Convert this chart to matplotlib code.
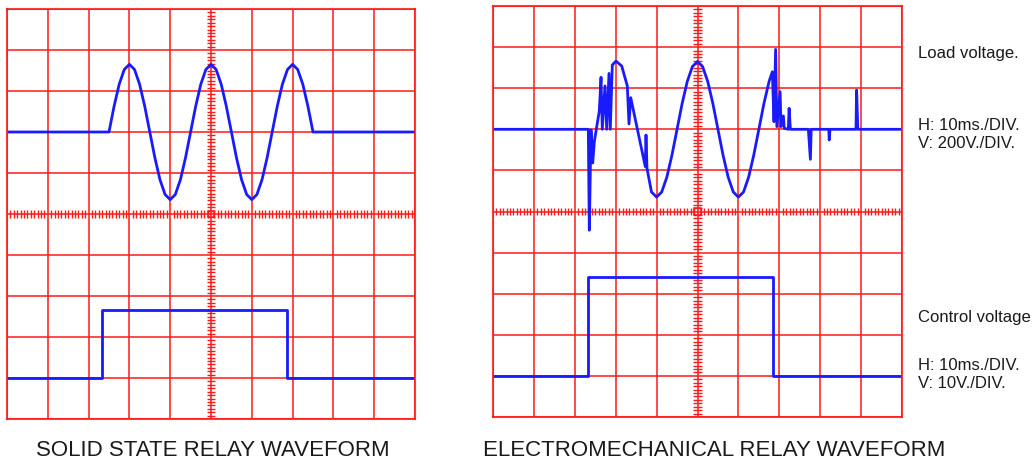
import matplotlib
matplotlib.use('Agg')
import matplotlib.pyplot as plt
import numpy as np

# time in ms, voltages in V
ssr_load_t = [0, 25, 26.25, 27.5, 28.75, 30, 31.25, 32.5, 33.75, 35, 36.25, 37.5, 38.75,
              40, 41.25, 42.5, 43.75, 45, 46.25, 47.5, 48.75, 50, 51.25, 52.5, 53.75,
              55, 56.25, 57.5, 58.75, 60, 61.25, 62.5, 63.75, 65, 66.25, 67.5, 68.75,
              70, 71.25, 72.5, 73.75, 75, 100]
ssr_load_v = [0, 0, 126, 233, 305, 330, 305, 233, 126, 0, -126, -233, -305,
              -330, -305, -233, -126, 0, 126, 233, 305, 330, 305, 233, 126,
              0, -126, -233, -305, -330, -305, -233, -126, 0, 126, 233, 305,
              330, 305, 233, 126, 0, 0]
ssr_ctrl_t = [0, 23.2, 23.2, 68.6, 68.6, 100]
ssr_ctrl_v = [0, 0, 16.5, 16.5, 0, 0]

emr_load_t = [0, 23.3, 23.55, 23.96, 24.38, 24.77, 25.99, 26.41, 26.72, 27.38, 27.8,
              28.36, 28.68, 29.17, 30.07, 31.47, 32.84, 33.25, 33.67, 37.24, 37.41,
              37.65, 38.75, 40, 41.25, 42.5, 43.75, 45, 46.25, 47.5, 48.75, 50, 51.25,
              52.5, 53.75, 55, 56.25, 57.5, 58.75, 60, 61.25, 62.5, 63.75, 65, 66.25,
              67.5, 68.3, 68.7, 69.1, 69.4, 70.2, 70.4, 71.0, 71.2, 72.2, 72.4, 72.7,
              77.1, 77.6, 77.8, 82.1, 82.2, 82.4, 88.75, 88.9, 89.2, 100]
emr_load_v = [0, 0, -491, -3, -164, -60, 89, 253, 0, 211, 0,
              272, 0, 313, 332, 308, 211, 26, 154, -182, -28,
              -190, -305, -330, -305, -233, -126, 0, 126, 233, 305, 330, 305,
              233, 126, 0, -126, -233, -305, -330, -305, -233, -126, 0, 126,
              233, 280, 37, 389, 13, 183, 13, 65, 5, 0, 102, 0,
              0, -146, 0, 0, -52, 0, 0, 191, 0, 0]
emr_ctrl_t = [0, 23.3, 23.3, 68.4, 68.4, 100]
emr_ctrl_v = [0, 0, 24, 24, 0, 0]

titles = ['SOLID STATE RELAY WAVEFORM', 'ELECTROMECHANICAL RELAY WAVEFORM']
side_notes = [('Load voltage.', 58), ('H: 10ms./DIV.', 130), ('V: 200V./DIV.', 148),
              ('Control voltage', 322), ('H: 10ms./DIV.', 370), ('V: 10V./DIV.', 388)]

LOAD_V_DIV, LOAD_POS = 200, 7
CTRL_V_DIV, CTRL_POS = 10, 1

plt.rcParams['font.family'] = ['Liberation Sans', 'DejaVu Sans']
W, H = 1035, 462
fig = plt.figure(figsize=(W / 100, H / 100), dpi=100)
grid_red = '#ff1a1a'
trace_blue = '#1a1aff'


def scope(rect, load_t, load_v, ctrl_t, ctrl_v):
    x0, y0, x1, y1 = rect
    ax = fig.add_axes([x0 / W, 1 - y1 / H, (x1 - x0) / W, (y1 - y0) / H])
    ax.set_xlim(0, 100)
    ax.set_ylim(0, 10)
    ax.set_xticks(np.arange(0, 101, 10))
    ax.set_yticks(np.arange(0, 11, 1))
    ax.tick_params(length=0, labelbottom=False, labelleft=False)
    ax.grid(color=grid_red, lw=1.3, alpha=0.85)
    for s in ax.spines.values():
        s.set_color(grid_red)
        s.set_linewidth(1.5)
        s.set_alpha(0.85)
    # graticule fine ticks on the centre lines
    sub = np.arange(0, 100, 10 / 12)
    sub = sub[np.abs(sub - np.round(sub / 10) * 10) > 0.5]
    ax.vlines(sub, 5 - 0.09, 5 + 0.09, color=grid_red, lw=1.0)
    suby = np.arange(0, 10, 1 / 12)
    suby = suby[np.abs(suby - np.round(suby)) > 0.05]
    ax.hlines(suby, 50 - 1.0, 50 + 1.0, color=grid_red, lw=1.0)
    ax.add_patch(plt.Rectangle((50 - 0.85, 5 - 0.085), 1.7, 0.17, fill=False,
                               ec=grid_red, lw=1.1))
    ax.plot(load_t, LOAD_POS + np.array(load_v) / LOAD_V_DIV, color=trace_blue, lw=2)
    ax.plot(ctrl_t, CTRL_POS + np.array(ctrl_v) / CTRL_V_DIV, color=trace_blue, lw=2)
    return ax


scope((7, 9, 415, 419), ssr_load_t, ssr_load_v, ssr_ctrl_t, ssr_ctrl_v)
scope((493, 6, 902, 417), emr_load_t, emr_load_v, emr_ctrl_t, emr_ctrl_v)

fig.text(212.5 / W, 1 - 456 / H, titles[0], ha='center', va='baseline', fontsize=16, color='#1a1a1a')
fig.text(714 / W, 1 - 456 / H, titles[1], ha='center', va='baseline', fontsize=16, color='#1a1a1a')
for txt, yb in side_notes:
    fig.text(918 / W, 1 - yb / H, txt, ha='left', va='baseline', fontsize=12, color='#1a1a1a')

fig.savefig('out.png', dpi=100)
